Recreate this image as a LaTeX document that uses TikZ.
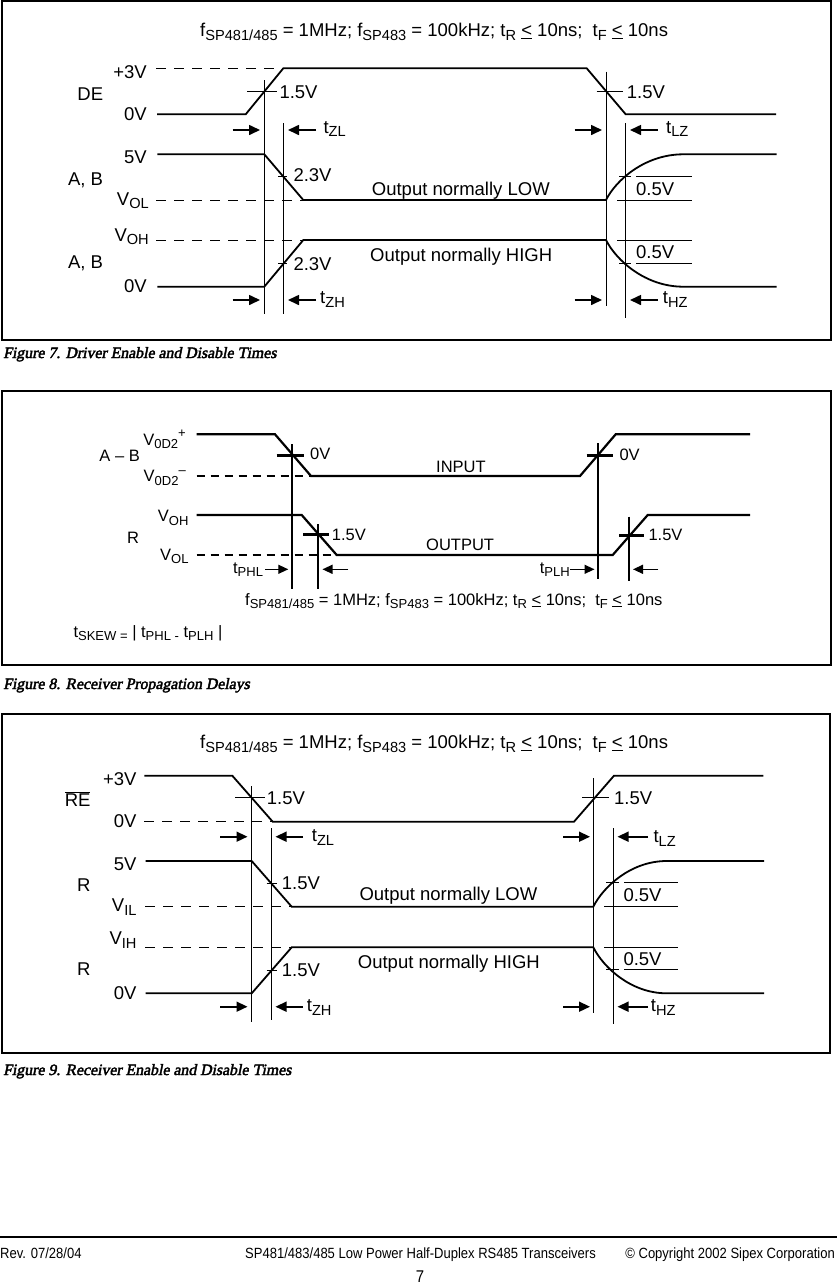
\documentclass[tikz,border=0pt]{standalone}
\usepackage{fontspec}
\setmainfont{Liberation Sans}
\newfontfamily\capfont[FakeSlant=0.2, FakeBold=2.5]{Liberation Serif}
\newfontfamily\narrowfont[FakeStretch=0.88]{Liberation Sans}
\usetikzlibrary{arrows.meta}

\newcommand{\sbs}[1]{\raisebox{-0.2em}{\scalebox{0.79}{#1}}}
\newcommand{\sps}[1]{\raisebox{0.45em}{\scalebox{0.79}{#1}}}
\newcommand{\freqtext}{f\sbs{SP481/485} = 1MHz; f\sbs{SP483} = 100kHz; t\sbs{R} \underline{<} 10ns;\ \ t\sbs{F} \underline{<} 10ns}

\tikzset{
  sig/.style={line width=1.8pt, line join=miter},
  sigb/.style={line width=2.2pt, line join=miter},
  guide/.style={line width=0.9pt},
  guideb/.style={line width=2pt},
  tickb/.style={line width=3pt},
  dashline/.style={line width=0.9pt, dash pattern=on 10pt off 8pt},
  dashb/.style={line width=1.8pt, dash pattern=on 8pt off 6pt},
  tarrow/.style={line width=1.6pt, -{Triangle[length=11pt,width=10pt]}},
  tarrowb/.style={line width=1.3pt, -{Triangle[length=10pt,width=9pt]}},
  lbl/.style={inner sep=0pt, font=\fontsize{18.5}{20}\selectfont},
  slbl/.style={inner sep=0pt, font=\fontsize{16.5}{18}\selectfont},
  figbox/.style={line width=1.2pt},
  figcap/.style={inner sep=0pt, anchor=base west, font=\capfont\fontsize{15.8}{17}\selectfont},
  foot/.style={inner sep=0pt, font=\narrowfont\fontsize{14.8}{16}\selectfont},
}

\begin{document}
\begin{tikzpicture}[x=1pt, y=-1pt]
    \useasboundingbox (0,0) rectangle (837,1286);

    % ---------- Figure 7 ----------
    \draw[figbox] (2,1) rectangle (831,340);
    \node[lbl, anchor=base west] (freqA) at (200,36.5) {\freqtext};
    % DE
    \draw[dashline] (156,68.3) -- (283.3,68.3);
    \draw[sig] (157,114.3) -- (245.7,114.3) -- (283.3,68.3) -- (586.7,68.3) -- (625.7,114.3) -- (776,114.3);
    % A, B (normally low)
    \draw[dashline] (156,200) -- (303.3,200);
    \draw[sig] (157.3,154.3) -- (264.3,154.3) -- (303.3,200) -- (606,200)
        .. controls (616,180) and (645,154.3) .. (683.3,154.3) -- (776.7,154.3);
    % A, B (normally high)
    \draw[dashline] (156,240) -- (303.3,240);
    \draw[sig] (157.3,286.7) -- (264.3,286.7) -- (303.3,240) -- (606,240)
        .. controls (616,260) and (645,286.7) .. (683.3,286.7) -- (776.7,286.7);
    % Timing lines
    \draw[guide] (264.3,80) -- (264.3,314);
    \draw[guide] (283.3,123.3) -- (283.3,314);
    \draw[guide] (606,71.7) -- (606,306);
    \draw[guide] (625,123.3) -- (625,318.3);
    % Ticks
    \draw[guide] (247,91) -- (277,91);
    \draw[guide] (596.7,91) -- (623.3,91);
    \draw[guide] (278,176.5) -- (287,176.5);
    \draw[guide] (278,263.5) -- (287,263.5);
    \draw[guide] (619,176.5) -- (631,176.5) (636,176.5) -- (691.7,176.5);
    \draw[guide] (617,200.3) -- (691.7,200.3);
    \draw[guide] (617,240) -- (691.7,240);
    \draw[guide] (619,263.3) -- (631,263.3) (636,263.3) -- (691.7,263.3);
    % Arrows
    \foreach \y in {130,300} {
        \draw[tarrow] (232.5,\y) -- (260,\y);
        \draw[tarrow] (316,\y) -- (288,\y);
        \draw[tarrow] (574.5,\y) -- (602,\y);
        \draw[tarrow] (657.5,\y) -- (630,\y);
    }
    % Labels
    \node[lbl, anchor=base east] (threeA) at (147,78.3) {+3V};
    \node[lbl, anchor=base east] (de) at (103.3,100.7) {DE};
    \node[lbl, anchor=base east] (zeroA) at (147,120) {0V};
    \node[lbl, anchor=base east] (fiveA) at (147,163.3) {5V};
    \node[lbl, anchor=base east] (abA) at (103.3,185) {A, B};
    \node[lbl, anchor=base east] (volA) at (149,205) {V\sbs{OL}};
    \node[lbl, anchor=base east] (vohA) at (149,241) {V\sbs{OH}};
    \node[lbl, anchor=base east] (abB) at (103.3,268.3) {A, B};
    \node[lbl, anchor=base east] (zeroB) at (147,292.3) {0V};
    \node[lbl, anchor=base west] (deL) at (279.3,98.3) {1.5V};
    \node[lbl, anchor=base west] (deR) at (626.7,98.3) {1.5V};
    \node[lbl, anchor=base west] (tzlA) at (323.3,133) {t\sbs{ZL}};
    \node[lbl, anchor=base west] (tlzA) at (666,133) {t\sbs{LZ}};
    \node[lbl, anchor=base west] (ablo) at (293.3,181.7) {2.3V};
    \node[lbl, anchor=base west] (lowA) at (371.7,195) {Output normally LOW};
    \node[lbl, anchor=base west] (hlfA) at (636,195) {0.5V};
    \node[lbl, anchor=base west] (highA) at (370,261.7) {Output normally HIGH};
    \node[lbl, anchor=base west] (hlfB) at (636,258.3) {0.5V};
    \node[lbl, anchor=base west] (abhi) at (293.3,270) {2.3V};
    \node[lbl, anchor=base west] (tzhA) at (320,303.3) {t\sbs{ZH}};
    \node[lbl, anchor=base west] (thzA) at (662.7,303.3) {t\sbs{HZ}};
    \node[figcap] (capA) at (3,358) {Figure 7. Driver Enable and Disable Times};

    % ---------- Figure 8 ----------
    \draw[figbox] (2,391) rectangle (831,665);
    % A - B input
    \draw[dashb] (196.7,476) -- (311,476);
    \draw[sigb] (196.7,434.3) -- (275,434.3) -- (311,476) -- (580,476) -- (615.7,434.3) -- (750,434.3);
    % R output
    \draw[dashb] (196.7,555) -- (336.7,555);
    \draw[sigb] (196.7,515) -- (301.7,515) -- (336.7,555) -- (612.7,555) -- (647.7,515) -- (750,515);
    % Timing lines
    \draw[guideb] (292.3,444.3) -- (292.3,589.3);
    \draw[guideb] (597.7,443.3) -- (597.7,579.3);
    \draw[guideb] (317.7,524.3) -- (317.7,589);
    \draw[guideb] (629.3,516.7) -- (629.3,580.7);
    \draw[tickb] (276.7,455) -- (304,455);
    \draw[tickb] (586.7,455) -- (613.3,455);
    \draw[tickb] (303.3,534.5) -- (329.3,534.5);
    \draw[tickb] (619.3,535) -- (644,535);
    % Arrows
    \draw[tarrowb] (265,569.3) -- (288.3,569.3);
    \draw[tarrowb] (348.3,569.3) -- (322.5,569.3);
    \draw[tarrowb] (570,569.3) -- (594.5,569.3);
    \draw[tarrowb] (658.3,569.3) -- (633,569.3);
    % Labels
    \node[slbl, anchor=base east] (vdp) at (186,445) {V\sbs{0D2}\sps{+}};
    \node[slbl, anchor=base east] (amb) at (140,461.7) {A – B};
    \node[slbl, anchor=base east] (vdm) at (186,481.7) {V\sbs{0D2}\sps{–}};
    \node[slbl, anchor=base east] (vohB) at (188.7,521.7) {V\sbs{OH}};
    \node[slbl, anchor=base east] (rB) at (139.3,543.3) {R};
    \node[slbl, anchor=base east] (volB) at (188.7,560) {V\sbs{OL}};
    \node[slbl, anchor=base west] (inL) at (310,459.3) {0V};
    \node[slbl, anchor=base west] (inR) at (619.3,460) {0V};
    \node[slbl, anchor=base west] (input) at (436,472.3) {INPUT};
    \node[slbl, anchor=base west] (outL) at (331.7,540.7) {1.5V};
    \node[slbl, anchor=base west] (outR) at (648.3,540.7) {1.5V};
    \node[slbl, anchor=base west] (output) at (426,550.7) {OUTPUT};
    \node[slbl, anchor=base east] (tphl) at (263.3,573) {t\sbs{PHL}};
    \node[slbl, anchor=base east] (tplh) at (570,573) {t\sbs{PLH}};
    \node[slbl, anchor=base west] (freqB) at (245,605) {\freqtext};
    \node[slbl, anchor=base west] (tskew) at (73.3,637.3) {t\sbs{SKEW =} | t\sbs{PHL -} t\sbs{PLH} |};
    \node[figcap] (capB) at (3,689) {Figure 8. Receiver Propagation Delays};

    % ---------- Figure 9 ----------
    \draw[figbox] (2,714) rectangle (830,1053);
    \node[lbl, anchor=base west] (freqC) at (200,748.3) {\freqtext};
    % RE
    \draw[dashline] (144.3,821.7) -- (272.7,821.7);
    \draw[sig] (144.3,775.7) -- (232.3,775.7) -- (272.7,821.7) -- (574,821.7) -- (614,775.7) -- (763.3,775.7);
    % R (normally low)
    \draw[dashline] (145,906.7) -- (291.7,906.7);
    \draw[sig] (145.7,861) -- (251.7,861) -- (291.7,906.7) -- (593.3,906.7)
        .. controls (603.3,886.7) and (631,861) .. (666.7,861) -- (764,861);
    % R (normally high)
    \draw[dashline] (145,947.3) -- (291.7,947.3);
    \draw[sig] (145.7,993.3) -- (251.7,993.3) -- (291.7,947.3) -- (593.3,947.3)
        .. controls (603.3,967.3) and (631,993.3) .. (666.7,993.3) -- (764,993.3);
    % Timing lines
    \draw[guide] (251.7,786) -- (251.7,1021.7);
    \draw[guide] (271.7,828.3) -- (271.7,1020);
    \draw[guide] (593.3,778.3) -- (593.3,1012.7);
    \draw[guide] (613.3,828.3) -- (613.3,1024);
    % Ticks
    \draw[guide] (235,797.7) -- (265,797.7);
    \draw[guide] (582.3,797.7) -- (609.3,797.7);
    \draw[guide] (266.7,883.5) -- (276.7,883.5);
    \draw[guide] (266.7,970) -- (276.7,970);
    \draw[guide] (606,882.3) -- (619,882.3) (624,882.3) -- (677.7,882.3);
    \draw[guide] (604.3,906.7) -- (678,906.7);
    \draw[guide] (604.3,947.3) -- (678,947.3);
    \draw[guide] (606,969.5) -- (619,969.5) (624,969.5) -- (677.7,969.5);
    % Arrows
    \foreach \y in {836.7,1006.7} {
        \draw[tarrow] (220,\y) -- (247.5,\y);
        \draw[tarrow] (303,\y) -- (275.5,\y);
        \draw[tarrow] (563,\y) -- (590,\y);
        \draw[tarrow] (648,\y) -- (617.5,\y);
    }
    % Labels
    \node[lbl, anchor=base east] (threeC) at (136.7,785) {+3V};
    \node[lbl, anchor=base east] (re) at (90.7,806.7) {$\overline{\mbox{RE}}$};
    \node[lbl, anchor=base east] (zeroC) at (136.7,827.7) {0V};
    \node[lbl, anchor=base east] (fiveC) at (136.7,870.7) {5V};
    \node[lbl, anchor=base east] (rC) at (90.7,891.7) {R};
    \node[lbl, anchor=base east] (vil) at (136.7,911.7) {V\sbs{IL}};
    \node[lbl, anchor=base east] (vih) at (136.7,944.3) {V\sbs{IH}};
    \node[lbl, anchor=base east] (rD) at (90.7,975) {R};
    \node[lbl, anchor=base east] (zeroD) at (136.7,999.3) {0V};
    \node[lbl, anchor=base west] (reL) at (266.7,804) {1.5V};
    \node[lbl, anchor=base west] (reR) at (614,804) {1.5V};
    \node[lbl, anchor=base west] (tzlC) at (311.7,841.7) {t\sbs{ZL}};
    \node[lbl, anchor=base west] (tlzC) at (653.3,842.3) {t\sbs{LZ}};
    \node[lbl, anchor=base west] (rlo) at (281.7,889) {1.5V};
    \node[lbl, anchor=base west] (lowC) at (359.3,900) {Output normally LOW};
    \node[lbl, anchor=base west] (hlfC) at (623.3,901.7) {0.5V};
    \node[lbl, anchor=base west] (highC) at (357.7,968.3) {Output normally HIGH};
    \node[lbl, anchor=base west] (hlfD) at (623.3,965) {0.5V};
    \node[lbl, anchor=base west] (rhi) at (281.7,976.7) {1.5V};
    \node[lbl, anchor=base west] (tzhC) at (306.7,1011.7) {t\sbs{ZH}};
    \node[lbl, anchor=base west] (thzC) at (650.7,1011.7) {t\sbs{HZ}};
    \node[figcap] (capC) at (3,1075) {Figure 9. Receiver Enable and Disable Times};

    % ---------- Footer ----------
    \draw[line width=2pt] (0,1237) -- (837,1237);
    \node[foot, anchor=base west] (rev) at (0,1258) {Rev. 07/28/04};
    \node[foot, anchor=base west] (title) at (245,1258) {SP481/483/485 Low Power Half-Duplex RS485 Transceivers};
    \node[foot, anchor=base east] (copy) at (835,1258) {© Copyright 2002 Sipex Corporation};
    \node[foot, anchor=base, font=\narrowfont\fontsize{17}{19}\selectfont] (page) at (420,1282) {7};
\end{tikzpicture}
\end{document}
